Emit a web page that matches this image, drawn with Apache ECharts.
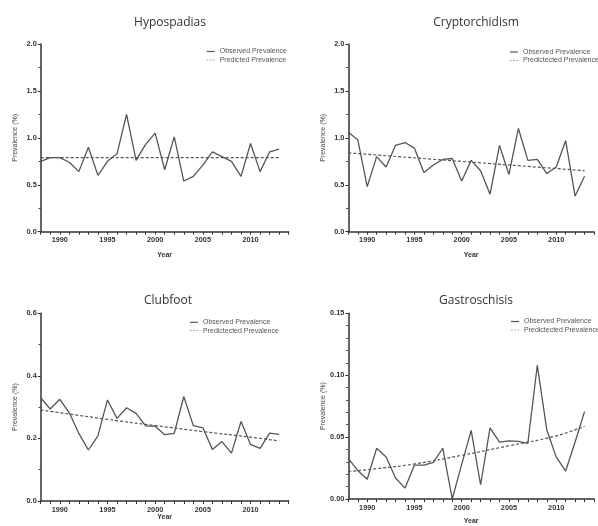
<!DOCTYPE html>
<html>
<head>
<meta charset="utf-8">
<script src="https://cdn.jsdelivr.net/npm/echarts@6/dist/echarts.min.js"></script>
<style>
html,body{margin:0;padding:0;background:#fff;}
#chart{width:598px;height:526px;}
</style>
</head>
<body>
<div id="chart"></div>
<script>
// ---- data ----
const years = [1988,1989,1990,1991,1992,1993,1994,1995,1996,1997,1998,1999,2000,2001,2002,2003,2004,2005,2006,2007,2008,2009,2010,2011,2012,2013];

const hypoObserved = [0.75,0.79,0.79,0.74,0.64,0.90,0.60,0.75,0.83,1.25,0.76,0.93,1.05,0.66,1.01,0.54,0.59,0.71,0.85,0.80,0.75,0.59,0.94,0.64,0.85,0.88];
const hypoPredYears = [1988,2013];
const hypoPredicted = [0.79,0.79];

const cryptoObserved = [1.06,0.98,0.48,0.80,0.69,0.92,0.95,0.89,0.63,0.71,0.77,0.78,0.54,0.76,0.65,0.40,0.92,0.61,1.10,0.76,0.77,0.62,0.69,0.97,0.38,0.59];
const cryptoPredYears = [1988,2013];
const cryptoPredicted = [0.84,0.65];

const clubObserved = [0.330,0.294,0.325,0.282,0.216,0.163,0.208,0.323,0.264,0.298,0.280,0.240,0.239,0.212,0.216,0.334,0.241,0.234,0.165,0.190,0.153,0.254,0.181,0.168,0.217,0.213];
const clubPredYears = [1988,1995,2000,2005,2010,2013];
const clubPredicted = [0.291,0.261,0.241,0.222,0.204,0.192];

const gastroObserved = [0.0328,0.023,0.016,0.041,0.034,0.017,0.0088,0.0274,0.0274,0.0296,0.041,0.0,0.028,0.0554,0.0115,0.0575,0.046,0.047,0.0466,0.045,0.108,0.056,0.034,0.0226,0.046,0.0706];
const gastroPredYears = [1988,1991,1995,2000,2005,2010,2013];
const gastroPredicted = [0.0222,0.0245,0.0283,0.0353,0.0430,0.0510,0.0588];

const titles = ['Hypospadias','Cryptorchidism','Clubfoot','Gastroschisis'];
const obsName = 'Observed Prevalence';
const predNames = ['Predicted Prevalence','Predictected Prevalence','Predictected Prevalence','Predictected Prevalence'];
const yMax = [2.0, 2.0, 0.6, 0.15];
const yInterval = [0.5, 0.5, 0.2, 0.05];
const yMinorSplit = [2, 2, 2, 5];
const yDecimals = [1, 1, 1, 2];

// ---- layout ----
const grids = [
  {left: 40.7, top: 44, width: 248, height: 187.7},
  {left: 348.3, top: 44, width: 245.7, height: 187.7},
  {left: 40.7, top: 313.3, width: 248, height: 187.7},
  {left: 348.3, top: 313.3, width: 245.7, height: 187.7}
];
const xNameGaps = [20, 20, 11, 19];
const legendPos = [
  {left: 206.7, top: 48},
  {left: 510, top: 48.5},
  {left: 190, top: 318.8},
  {left: 511, top: 318}
];
const titlePos = [
  {x: 165, y: 12},
  {x: 471, y: 12},
  {x: 163, y: 290},
  {x: 471, y: 290}
];

const obsSets = [hypoObserved, cryptoObserved, clubObserved, gastroObserved];
const predYearSets = [hypoPredYears, cryptoPredYears, clubPredYears, gastroPredYears];
const predSets = [hypoPredicted, cryptoPredicted, clubPredicted, gastroPredicted];

const axisColor = '#333';
const lineColor = '#555';
const fontFam = '"Liberation Sans", Arial, sans-serif';
const solidIcon = 'rect';
const dashIcon = 'path://M0,0h3v1h-3z M5,0h3v1h-3z M10,0h3v1h-3z';

const option = {
  animation: false,
  backgroundColor: '#fff',
  title: titles.map((t, i) => ({
    text: t,
    left: titlePos[i].x,
    top: titlePos[i].y,
    textAlign: 'center',
    textStyle: {fontFamily: '"Open Sans", sans-serif', fontSize: 12, fontWeight: 'normal', color: '#333'}
  })),
  legend: legendPos.map((p, i) => ({
    left: p.left, top: p.top,
    orient: 'vertical',
    padding: 0,
    itemWidth: 8, itemHeight: 1.2, itemGap: 1.5,
    data: [{name: obsName, icon: solidIcon}, {name: predNames[i], icon: dashIcon}],
    textStyle: {fontFamily: fontFam, fontSize: 7, color: '#555', lineHeight: 7},
    selectedMode: false
  })),
  grid: grids.map(g => Object.assign({containLabel: false}, g)),
  xAxis: grids.map((g, i) => ({
    type: 'value',
    gridIndex: i,
    min: 1988, max: 2014, interval: 1,
    name: 'Year',
    nameLocation: 'middle',
    nameGap: xNameGaps[i],
    nameTextStyle: {fontFamily: fontFam, fontSize: 7, fontWeight: 'bold', color: '#333'},
    axisLine: {show: true, onZero: false, lineStyle: {color: axisColor, width: 1.5}},
    axisTick: {show: true, inside: false, length: 3, lineStyle: {color: axisColor, width: 1}},
    axisLabel: {
      margin: 5,
      fontFamily: fontFam, fontSize: 7.3, fontWeight: 'bold', color: '#333',
      showMinLabel: true, showMaxLabel: true,
      formatter: v => (Math.round(v) % 5 === 0 && v < 2014 && v > 1988) ? String(Math.round(v)) : ''
    },
    splitLine: {show: false}
  })),
  yAxis: grids.map((g, i) => ({
    type: 'value',
    gridIndex: i,
    min: 0, max: yMax[i], interval: yInterval[i],
    name: 'Prevalence (%)',
    nameLocation: 'middle',
    nameGap: 22,
    nameRotate: 90,
    nameTextStyle: {fontFamily: fontFam, fontSize: 7, color: '#444'},
    axisLine: {show: true, onZero: false, lineStyle: {color: axisColor, width: 1.5}},
    axisTick: {show: true, inside: false, length: 3, lineStyle: {color: axisColor, width: 1}},
    minorTick: {show: true, splitNumber: yMinorSplit[i], length: 2, lineStyle: {color: axisColor, width: 1}},
    axisLabel: {
      margin: 4,
      fontFamily: fontFam, fontSize: 7.3, fontWeight: 'bold', color: '#333',
      formatter: v => v.toFixed(yDecimals[i])
    },
    splitLine: {show: false},
    minorSplitLine: {show: false}
  })),
  series: []
};

for (let i = 0; i < 4; i++) {
  option.series.push({
    name: obsName,
    type: 'line',
    xAxisIndex: i, yAxisIndex: i,
    symbol: 'none',
    lineStyle: {color: lineColor, width: 1.3},
    itemStyle: {color: lineColor},
    data: years.map((y, k) => [y, obsSets[i][k]])
  });
  option.series.push({
    name: predNames[i],
    type: 'line',
    xAxisIndex: i, yAxisIndex: i,
    symbol: 'none',
    smooth: predYearSets[i].length > 2,
    lineStyle: {color: lineColor, width: 1.2, type: [3, 2]},
    itemStyle: {color: lineColor},
    data: predYearSets[i].map((y, k) => [y, predSets[i][k]])
  });
}

const chart = echarts.init(document.getElementById('chart'), null, {renderer: 'canvas'});
chart.setOption(option);
</script>
</body>
</html>
